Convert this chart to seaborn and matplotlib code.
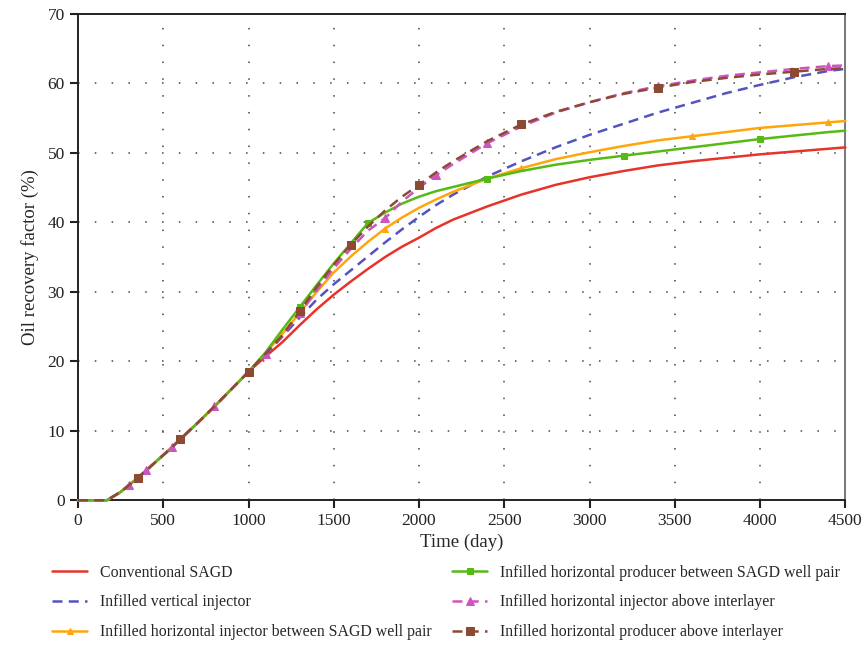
import numpy as np
import pandas as pd
import matplotlib
matplotlib.use("Agg")
import matplotlib.pyplot as plt
import seaborn as sns

# Data ----------------------------------------------------------------------#

days = [0, 100, 170, 250, 300, 350, 400, 500, 550, 600, 700, 800, 900, 1000,
        1100, 1200, 1300, 1400, 1500, 1600, 1700, 1800, 1900, 2000, 2100, 2200,
        2400, 2600, 2800, 3000, 3200, 3400, 3600, 3800, 4000, 4200, 4400, 4500]

# shared early part (0-1000 days)
early = [0, 0, 0, 1.2, 2.2, 3.2, 4.3, 6.5, 7.6, 8.8, 11.1, 13.5, 16.0, 18.5]

conventional = early + [20.7, 22.8, 25.2, 27.5, 29.6, 31.5, 33.3, 35.0, 36.5,
                        37.8, 39.2, 40.4, 42.3, 44.0, 45.4, 46.5, 47.4, 48.2,
                        48.8, 49.3, 49.8, 50.2, 50.6, 50.8]
vertical_inj = early + [21.0, 23.6, 26.3, 28.9, 31.1, 33.1, 35.1, 37.1, 39.0,
                        40.8, 42.5, 44.0, 46.6, 48.8, 50.8, 52.6, 54.2, 55.8,
                        57.2, 58.6, 59.8, 60.9, 61.8, 62.1]
horiz_inj_pair = early + [21.2, 24.0, 27.0, 30.0, 32.8, 35.1, 37.2, 39.1, 40.7,
                          42.1, 43.3, 44.4, 46.3, 47.8, 49.1, 50.1, 51.0, 51.8,
                          52.4, 53.0, 53.6, 54.0, 54.4, 54.6]
horiz_prod_pair = early + [21.3, 24.6, 27.8, 31.0, 34.1, 37.0, 39.9, 41.4, 42.7,
                           43.7, 44.5, 45.1, 46.3, 47.4, 48.3, 49.0, 49.6, 50.2,
                           50.8, 51.4, 52.0, 52.5, 53.0, 53.2]
horiz_inj_above = early + [21.1, 23.7, 26.9, 30.2, 33.4, 36.2, 38.8, 40.6, 43.0,
                           45.0, 46.8, 48.4, 51.4, 53.8, 55.8, 57.3, 58.6, 59.6,
                           60.4, 61.1, 61.6, 62.1, 62.5, 62.6]
horiz_prod_above = early + [21.1, 23.8, 27.2, 30.7, 33.9, 36.8, 39.4, 41.7, 43.7,
                            45.4, 47.2, 48.8, 51.7, 54.1, 55.9, 57.3, 58.5, 59.4,
                            60.2, 60.8, 61.3, 61.7, 62.1, 62.2]

labels = ["Conventional SAGD",
          "Infilled vertical injector",
          "Infilled horizontal injector between SAGD well pair",
          "Infilled horizontal producer between SAGD well pair",
          "Infilled horizontal injector above interlayer",
          "Infilled horizontal producer above interlayer"]

series = [conventional, vertical_inj, horiz_inj_pair,
          horiz_prod_pair, horiz_inj_above, horiz_prod_above]

# Styles ----------------------------------------------------------------------#

colors = ["#e8332a", "#5353c2", "#ffa60a", "#55bb14", "#cc55c0", "#8c4a33"]
styles = ["-", (0, (4, 2.5)), "-", "-", (0, (4, 2.5)), (0, (4, 2.5))]
markers = [None, None, "^", "s", "^", "s"]
msizes = [0, 0, 4.5, 5, 5.5, 5.5]
mark_idx = [None, None,
            [5, 9, 13, 21, 27, 32, 36],
            [13, 16, 20, 26, 30, 34],
            [4, 6, 8, 11, 14, 16, 21, 24, 26, 31, 36],
            [5, 9, 13, 16, 19, 23, 27, 31, 35]]

# Plot ------------------------------------------------------------------------#

sns.set_style("ticks")
plt.rcParams["font.family"] = ["Liberation Serif", "DejaVu Serif"]

fig = plt.figure(figsize=(8.67, 6.67), dpi=100)
ax = fig.add_axes([0.09, 0.25, 0.885, 0.729])

for vals, lab, col, ls, mk, ms, me in zip(series, labels, colors, styles,
                                          markers, msizes, mark_idx):
    kw = dict(color=col, linewidth=1.8, linestyle=ls, label=lab)
    if mk is not None:
        kw.update(marker=mk, markersize=ms, markevery=me,
                  markeredgecolor=col, markerfacecolor=col)
    sns.lineplot(x=days, y=vals, ax=ax, clip_on=False, **kw)

ax.set_xlim(0, 4500)
ax.set_ylim(0, 70)
ax.set_xticks(np.arange(0, 4501, 500))
ax.set_yticks(np.arange(0, 71, 10))
ax.grid(True, color="#444444", linestyle=(0, (1, 10)), linewidth=1.1)
for sp in ax.spines.values():
    sp.set_visible(True)
    sp.set_color("#222222")
    sp.set_linewidth(1.4)
    sp.set_zorder(1.5)
ax.spines["right"].set_color("#777777")
ax.tick_params(axis="both", which="major", labelsize=12.5, length=6,
               width=1.5, direction="out", colors="#222222")
ax.set_xlabel("Time (day)", fontsize=13.5, labelpad=3)
ax.set_ylabel("Oil recovery factor (%)", fontsize=13.5, labelpad=6)

# legend below the axes, two columns, column-major order
handles, labs = ax.get_legend_handles_labels()
if ax.get_legend() is not None:
    ax.get_legend().remove()
fig.legend(handles, labs, loc="upper left", bbox_to_anchor=(0.044, 0.175),
           ncol=2, frameon=False, fontsize=11.4, handlelength=2.2,
           handletextpad=0.8, columnspacing=1.3, labelspacing=0.88)

fig.savefig("out.png", dpi=100)
